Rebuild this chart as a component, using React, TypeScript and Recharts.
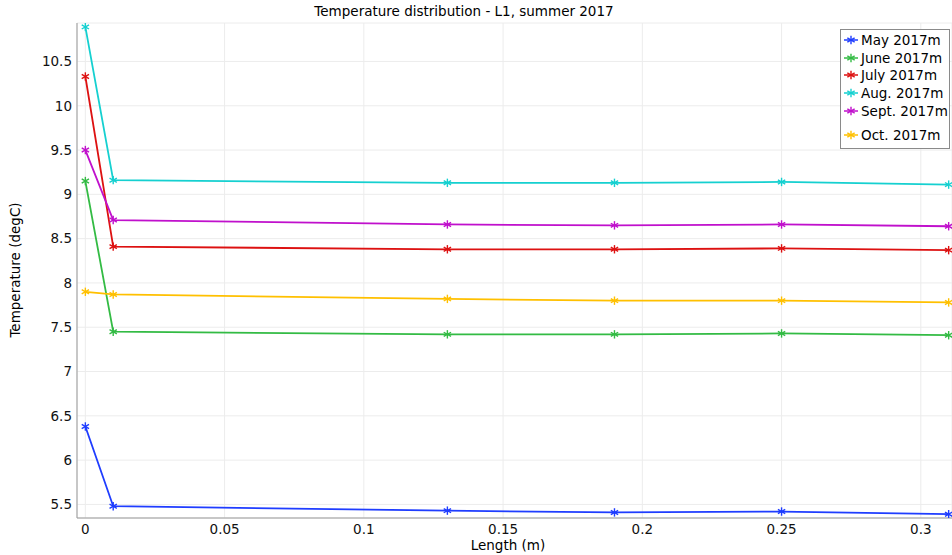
import React from "react";
import { CartesianGrid, Line, LineChart, XAxis, YAxis } from "recharts";

const lengths = [0, 0.01, 0.13, 0.19, 0.25, 0.31];
const may = [6.38, 5.48, 5.43, 5.41, 5.42, 5.39];
const june = [9.15, 7.45, 7.42, 7.42, 7.43, 7.41];
const july = [10.33, 8.41, 8.38, 8.38, 8.39, 8.37];
const aug = [10.89, 9.16, 9.13, 9.13, 9.14, 9.11];
const sept = [9.5, 8.71, 8.66, 8.65, 8.66, 8.64];
const oct = [7.9, 7.87, 7.82, 7.8, 7.8, 7.78];

const xTicks = [0, 0.05, 0.1, 0.15, 0.2, 0.25, 0.3];
const yTicks = [5.5, 6, 6.5, 7, 7.5, 8, 8.5, 9, 9.5, 10, 10.5];

const series = [
  { key: "may", name: "May 2017m", color: "#1f3dff", values: may },
  { key: "june", name: "June 2017m", color: "#33bb44", values: june },
  { key: "july", name: "July 2017m", color: "#dd1111", values: july },
  { key: "aug", name: "Aug. 2017m", color: "#15d0d0", values: aug },
  { key: "sept", name: "Sept. 2017m", color: "#c010cc", values: sept },
  { key: "oct", name: "Oct. 2017m", color: "#ffc000", values: oct },
];

const data = lengths.map((x, i) => {
  const row: Record<string, number> = { x };
  series.forEach((s) => (row[s.key] = s.values[i]));
  return row;
});

const font = "'DejaVu Sans', Verdana, sans-serif";
const xDomain = [-0.003, 0.3112];

function asterisk(cx: number, cy: number, color: string, key?: string | number) {
  const r = 4.2;
  const dx = r * 0.87;
  const dy = r * 0.5;
  return (
    <g key={key} stroke={color} strokeWidth={1.4}>
      <line x1={cx} y1={cy - r} x2={cx} y2={cy + r} />
      <line x1={cx - dx} y1={cy - dy} x2={cx + dx} y2={cy + dy} />
      <line x1={cx - dx} y1={cy + dy} x2={cx + dx} y2={cy - dy} />
    </g>
  );
}

function StarDot(props: any) {
  const { cx, cy, stroke, index } = props;
  if (cx == null || cy == null) return <g key={index} />;
  return asterisk(cx, cy, stroke, index);
}

function LegendBox() {
  return (
    <div
      style={{
        position: "absolute",
        top: 29,
        left: 840,
        border: "1px solid #8a8a8a",
        background: "#fff",
        padding: "1px 4px 2px 3px",
        fontFamily: font,
        fontSize: 13.5,
        color: "#000",
        width: 110,
        boxSizing: "border-box",
      }}
    >
      {series.map((s, i) => (
        <div
          key={s.key}
          style={{ display: "flex", alignItems: "center", height: i === 5 ? 22 : 17.8, paddingTop: i === 5 ? 4 : 0 }}
        >
          <svg width={14} height={10} style={{ flex: "none" }}>
            <line x1={0} y1={5} x2={14} y2={5} stroke={s.color} strokeWidth={1.5} />
            {asterisk(7, 5, s.color)}
          </svg>
          <span style={{ marginLeft: 3, whiteSpace: "nowrap" }}>{s.name}</span>
        </div>
      ))}
    </div>
  );
}

export default function App() {
  return (
    <div style={{ position: "absolute", left: 0, top: 0, width: 952, height: 555, background: "#fff" }}>
      <div
        style={{
          position: "absolute",
          top: 3,
          left: 0,
          width: 928,
          textAlign: "center",
          fontFamily: font,
          fontSize: 13.5,
          color: "#000",
        }}
      >
        Temperature distribution - L1, summer 2017
      </div>
      <LineChart width={952} height={555} data={data} margin={{ top: 23, right: 0, bottom: 0, left: 0 }}>
        <CartesianGrid stroke="#ececec" />
        <XAxis
          dataKey="x"
          type="number"
          domain={xDomain}
          ticks={xTicks}
          allowDataOverflow
          height={37}
          tickLine={false}
          tickSize={0}
          tickMargin={6}
          stroke="#999"
          tick={{ fill: "#111", fontSize: 13.5, fontFamily: font }}
          label={{
            content: () => (
              <text x={508} y={550} textAnchor="middle" fontFamily={font} fontSize={13.5} fill="#000">
                Length (m)
              </text>
            ),
          }}
        />
        <XAxis
          xAxisId="top"
          dataKey="x"
          type="number"
          orientation="top"
          domain={xDomain}
          ticks={xTicks}
          allowDataOverflow
          height={0}
          mirror
          tick={false}
          tickSize={4}
          stroke="#999"
        />
        <YAxis
          type="number"
          domain={[5.347, 10.934]}
          ticks={yTicks}
          allowDataOverflow
          width={77}
          tickLine={false}
          tickSize={0}
          tickMargin={5}
          stroke="#999"
          tick={{ fill: "#111", fontSize: 13.5, fontFamily: font }}
          label={{
            content: () => (
              <text
                x={20}
                y={270}
                transform="rotate(-90 20 270)"
                textAnchor="middle"
                fontFamily={font}
                fontSize={13.5}
                fill="#000"
              >
                Temperature (degC)
              </text>
            ),
          }}
        />
        {series.map((s) => (
          <Line
            key={s.key}
            dataKey={s.key}
            name={s.name}
            stroke={s.color}
            strokeWidth={1.8}
            dot={<StarDot />}
            activeDot={false}
            isAnimationActive={false}
          />
        ))}
      </LineChart>
      <LegendBox />
    </div>
  );
}
